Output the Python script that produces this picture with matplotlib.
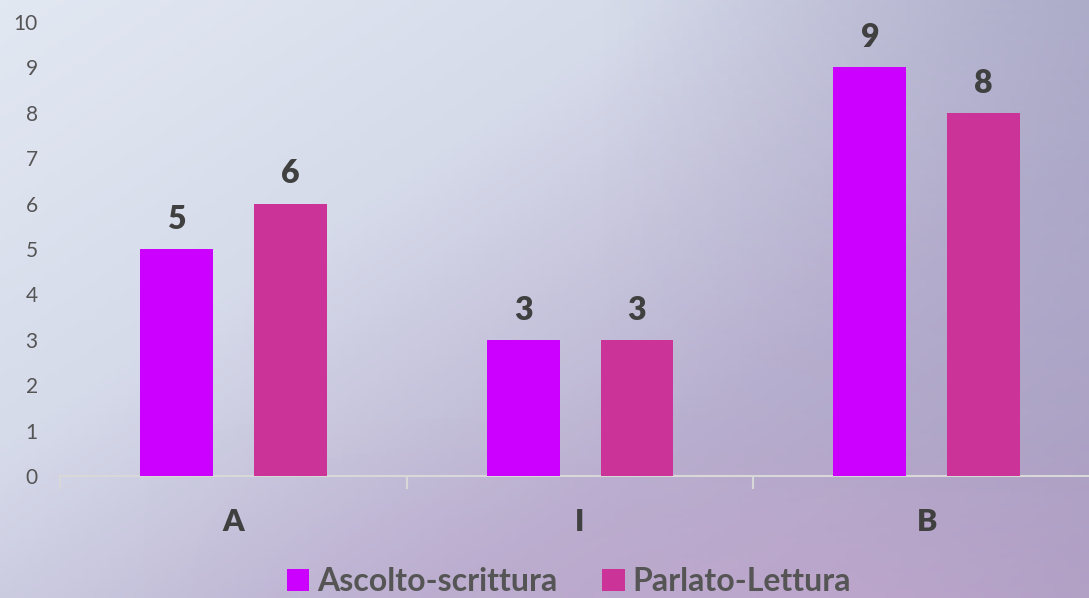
import numpy as np
import matplotlib.pyplot as plt
from matplotlib.colors import LinearSegmentedColormap

# data
categories = ["A", "I", "B"]
ascolto_scrittura = [5, 3, 9]
parlato_lettura = [6, 3, 8]
series_names = ["Ascolto-scrittura", "Parlato-Lettura"]
y_ticks = list(range(0, 11))

COL_AS = "#cc00ff"
COL_PL = "#cc3399"
TEXT = "#404040"

plt.rcParams["font.family"] = ["Lato", "DejaVu Sans"]

fig = plt.figure(figsize=(10.89, 5.98), dpi=100)

# background: soft space-like gradient
bg = fig.add_axes([0, 0, 1, 1], zorder=-10)
h, w = 120, 220
yy, xx = np.mgrid[0:1:h * 1j, 0:1:w * 1j]
light = np.clip(1.0 - 0.55 * xx - 0.45 * yy, 0, 1)
cmap = LinearSegmentedColormap.from_list("sky", ["#a79cc0", "#b9b0d0", "#d6dbea", "#e2e8f2"])
bg.imshow(light, cmap=cmap, aspect="auto", extent=[0, 1, 0, 1], origin="upper")
# darker grey-blue on the right, pinkish low band
right = np.clip((xx - 0.55) / 0.45, 0, 1) * np.clip(1 - yy * 1.2, 0, 1)
bg.imshow(np.ones_like(xx), cmap=LinearSegmentedColormap.from_list("r", ["#9a9cbc", "#9a9cbc"]),
          alpha=0.55 * right, aspect="auto", extent=[0, 1, 0, 1], origin="upper")
pink = np.clip((yy - 0.7) / 0.3, 0, 1) * np.clip(1 - abs(xx - 0.75) * 1.6, 0, 1)
bg.imshow(np.ones_like(xx), cmap=LinearSegmentedColormap.from_list("p", ["#c8a8d0", "#c8a8d0"]),
          alpha=0.6 * pink, aspect="auto", extent=[0, 1, 0, 1], origin="upper")
bg.set_xlim(0, 1)
bg.set_ylim(0, 1)
bg.axis("off")

ax = fig.add_axes([60 / 1089, 1 - 476 / 598, 1 - 60 / 1089, (476 - 22) / 598])
ax.set_facecolor("none")

x = np.arange(len(categories))
width = 0.21
offset = 0.164
b1 = ax.bar(x - offset, ascolto_scrittura, width, color=COL_AS, label=series_names[0], zorder=3)
b2 = ax.bar(x + offset, parlato_lettura, width, color=COL_PL, label=series_names[1], zorder=3)

for bars in (b1, b2):
    for rect in bars:
        ax.annotate(f"{rect.get_height():g}",
                    (rect.get_x() + rect.get_width() / 2, rect.get_height()),
                    xytext=(0, 11), textcoords="offset points",
                    ha="center", va="bottom", fontsize=23, fontweight="heavy", color=TEXT)

ax.set_yticks(y_ticks)
ax.tick_params(axis="y", length=0, pad=16, labelsize=15, labelcolor="#555555")

ax.set_xticks(x)
ax.set_xticklabels(categories, fontsize=22, fontweight="heavy", color=TEXT)
ax.tick_params(axis="x", length=0, pad=23)
ax.set_xticks([-0.5, 0.5, 1.5, 2.5], minor=True)
ax.tick_params(axis="x", which="minor", length=9, width=1.5, color="#d8d8d8")

# limits after ticks, otherwise the 2.5 minor tick widens the view
ax.set_xlim(-0.5, 2.468)
ax.set_ylim(0, 10)

for s in ("top", "right", "left"):
    ax.spines[s].set_visible(False)
ax.spines["bottom"].set_color("#d8d8d8")
ax.spines["bottom"].set_linewidth(1.5)

fig.legend(handles=[b1, b2], loc="center", bbox_to_anchor=(0.5225, 0.027), ncol=2,
           frameon=False, handlelength=0.7, handleheight=0.7, handletextpad=0.25,
           columnspacing=1.4, prop={"size": 23, "weight": "bold"}, labelcolor="#555555")

fig.savefig("out.png", dpi=100)
